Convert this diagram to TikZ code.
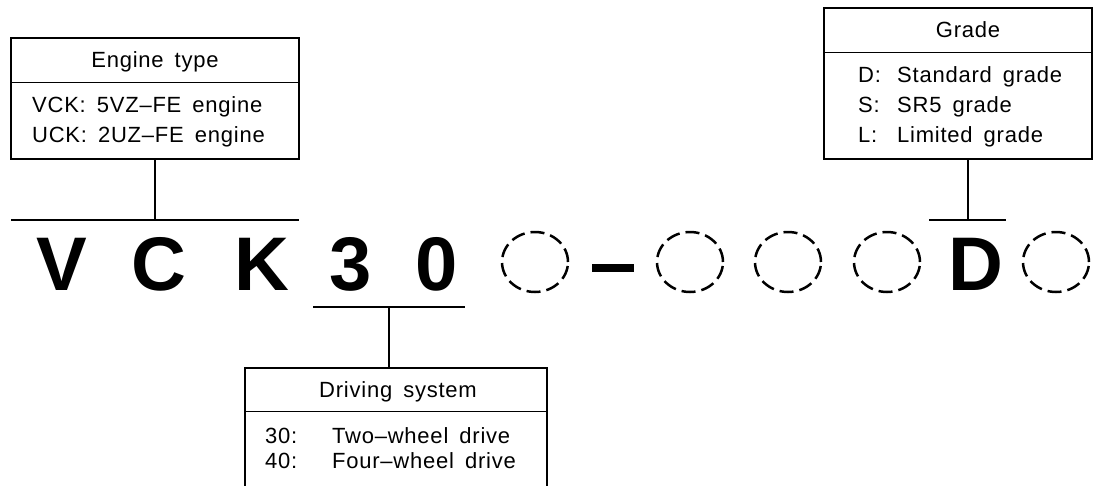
\documentclass[tikz,border=0pt]{standalone}
\usepackage{fontspec}
\setmainfont[LetterSpace=3.5,WordSpace=1.6]{Liberation Sans}
\newfontfamily\codefont{Liberation Sans}
\usetikzlibrary{calc,shapes.geometric}

\tikzset{
	infobox/.style={draw=black, line width=1.2pt, inner sep=0pt},
	link/.style={draw=black, line width=1.2pt},
	entry/.style={anchor=base west, inner sep=0pt, font=\fontsize{22}{26}\selectfont},
	heading/.style={anchor=base, inner sep=0pt, font=\fontsize{22}{26}\selectfont},
	codechar/.style={anchor=base, inner sep=0pt, font=\codefont\fontsize{76}{80}\selectfont\bfseries},
	slot/.style={draw=black, ellipse, line width=2.5pt, dash pattern=on 14pt off 6pt, minimum width=66pt, minimum height=60pt, inner sep=0pt}
}

\begin{document}
\begin{tikzpicture}[x=1pt, y=-1pt]
	\useasboundingbox (0,0) rectangle (1093,485);
	\clip (0,0) rectangle (1093,485);

	% engine type
	\node[infobox, minimum width=288pt, minimum height=121pt] (engine) at (155,98.5) {};
	\draw[link] ($(engine.north west)+(0,45)$) -- ($(engine.north east)+(0,45)$);
	\node[heading] (enginehead) at (155,67) {Engine type};
	\node[entry] (vck) at (32,112) {VCK: 5VZ--FE engine};
	\node[entry] (uck) at (32,142.5) {UCK: 2UZ--FE engine};

	% grade
	\node[infobox, minimum width=268pt, minimum height=151pt] (grade) at (958,83.5) {};
	\draw[link] ($(grade.north west)+(0,45)$) -- ($(grade.north east)+(0,45)$);
	\node[heading] (gradehead) at (968,37.5) {Grade};
	\node[entry] (dkey) at (858,82.5) {D:};
	\node[entry] (dval) at (897,82.5) {Standard grade};
	\node[entry] (skey) at (858,112.5) {S:};
	\node[entry] (sval) at (897,112.5) {SR5 grade};
	\node[entry] (lkey) at (858,142.5) {L:};
	\node[entry] (lval) at (897,142.5) {Limited grade};

	% driving system
	\node[infobox, minimum width=302pt, minimum height=132pt] (drive) at (396,434) {};
	\draw[link] ($(drive.north west)+(0,44)$) -- ($(drive.north east)+(0,44)$);
	\node[heading] (drivehead) at (398,397) {Driving system};
	\node[entry] (twokey) at (265,443) {30:};
	\node[entry] (twoval) at (332,443) {Two--wheel drive};
	\node[entry] (fourkey) at (265,468) {40:};
	\node[entry] (fourval) at (332,468) {Four--wheel drive};

	% model code
	\node[codechar] (v) at (62,290) {V};
	\node[codechar] (c) at (159,290) {C};
	\node[codechar] (k) at (262,290) {K};
	\node[codechar] (three) at (351,290) {3};
	\node[codechar] (zero) at (437,290) {0};
	\node[slot] (slota) at (535,262) {};
	\node[fill=black, minimum width=42pt, minimum height=8pt, inner sep=0pt] (hyphen) at (613,268) {};
	\node[slot] (slotb) at (690,262) {};
	\node[slot] (slotc) at (788,262) {};
	\node[slot] (slotd) at (887,262) {};
	\node[codechar] (d) at (976,290) {D};
	\node[slot] (slote) at (1056,262) {};

	% connectors
	\coordinate (ebarl) at (11,220);
	\coordinate (ebarr) at (299,220);
	\draw[link] (ebarl) -- (ebarr);
	\draw[link] (engine.south) -- (engine.south |- ebarl);

	\coordinate (dbarl) at (313,307);
	\coordinate (dbarr) at (465,307);
	\coordinate (dmid) at (389,307);
	\draw[link] (dbarl) -- (dbarr);
	\draw[link] (dmid) -- (dmid |- drive.north);

	\coordinate (gbarl) at (929,220);
	\coordinate (gbarr) at (1006,220);
	\coordinate (gmid) at (968,220);
	\draw[link] (gbarl) -- (gbarr);
	\draw[link] (gmid) -- (gmid |- grade.south);
\end{tikzpicture}
\end{document}
